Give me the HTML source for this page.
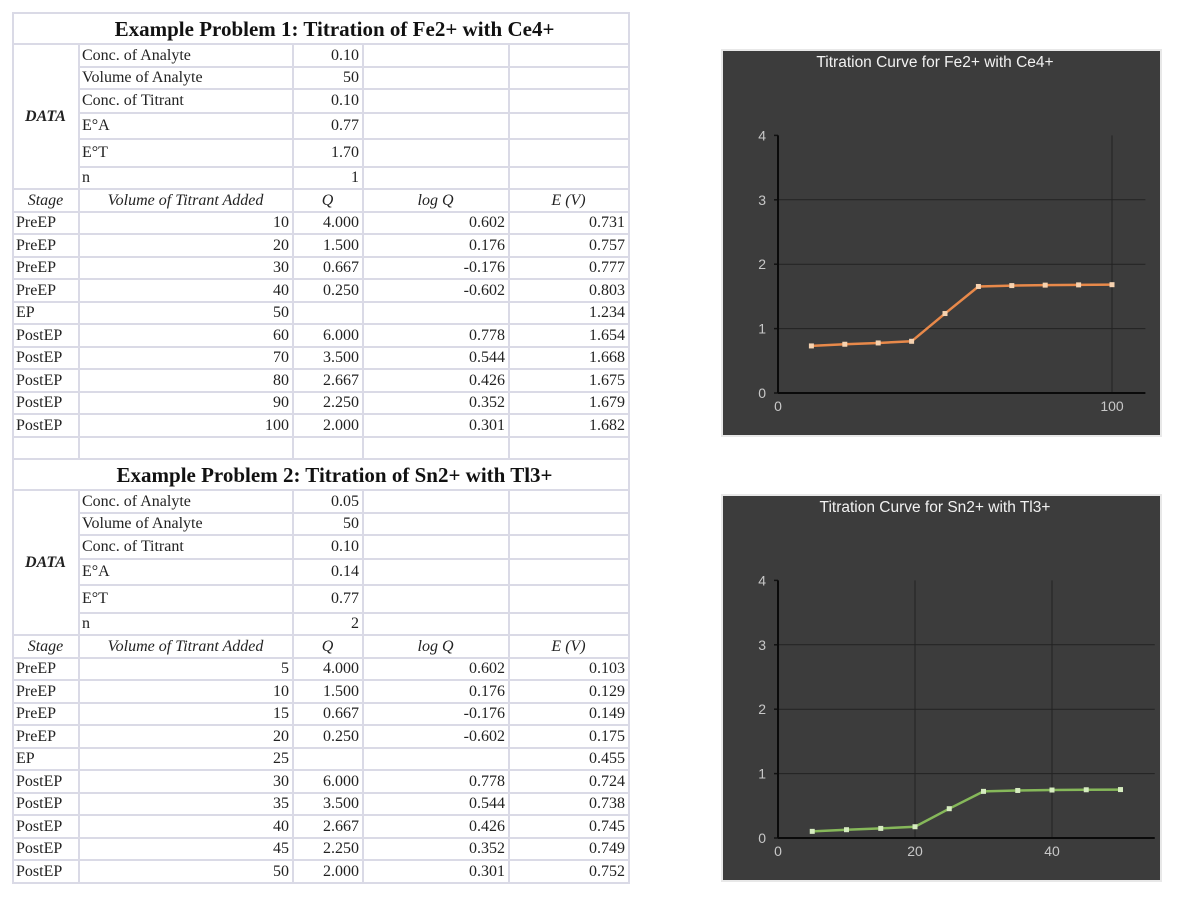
<!DOCTYPE html>
<html><head><meta charset="utf-8">
<style>
body{margin:0;width:1200px;height:902px;background:#fff;position:relative;overflow:hidden;font-family:"Liberation Serif",serif;}
table{position:absolute;left:12px;top:12px;border-collapse:collapse;table-layout:fixed;width:616px;font-size:16px;color:#222;}
td{border:2px solid #dadae6;padding:0 3px 0 2px;white-space:nowrap;overflow:hidden;line-height:14px;}
td.r{text-align:right;}
td.c{text-align:center;font-style:italic;}
td.t{text-align:center;font-weight:bold;font-size:21px;color:#111;padding-left:30px;}
td.d{text-align:center;font-weight:bold;font-style:italic;font-size:16px;}
.chart{position:absolute;left:721px;width:441px;height:388px;}
</style></head><body>
<table>
<colgroup><col style="width:66px"><col style="width:214px"><col style="width:70px"><col style="width:146px"><col style="width:120px"></colgroup>
<tbody id="tb"></tbody>
</table>

<svg class="chart" style="top:49px" id="c1" width="441" height="388"></svg>
<svg class="chart" style="top:494px" id="c2" width="441" height="388"></svg>

<script>
// ---- table data ----
const dataLabels = ["Conc. of Analyte","Volume of Analyte","Conc. of Titrant","E°A","E°T","n"];
const data1Values = ["0.10","50","0.10","0.77","1.70","1"];
const data2Values = ["0.05","50","0.10","0.14","0.77","2"];
const stages = ["PreEP","PreEP","PreEP","PreEP","EP","PostEP","PostEP","PostEP","PostEP","PostEP"];
const qVals = ["4.000","1.500","0.667","0.250","","6.000","3.500","2.667","2.250","2.000"];
const logQVals = ["0.602","0.176","-0.176","-0.602","","0.778","0.544","0.426","0.352","0.301"];
const vol1 = [10,20,30,40,50,60,70,80,90,100];
const e1 = [0.731,0.757,0.777,0.803,1.234,1.654,1.668,1.675,1.679,1.682];
const vol2 = [5,10,15,20,25,30,35,40,45,50];
const e2 = [0.103,0.129,0.149,0.175,0.455,0.724,0.738,0.745,0.749,0.752];
const dataRowH = [23,22,24,26,28,22];

const tb = document.getElementById('tb');
function addRow(h, cells){
  const tr = document.createElement('tr');
  tr.style.height = h+'px';
  cells.forEach(c=>{
    const td = document.createElement('td');
    td.textContent = c.t;
    if(c.cls) td.className = c.cls;
    if(c.cs) td.colSpan = c.cs;
    if(c.rs) td.rowSpan = c.rs;
    
    
    tr.appendChild(td);
  });
  tb.appendChild(tr);
}
function block(title, vals, vols, es, last){
  addRow(31,[{t:title,cls:'t',cs:5,n:'table-title'}]);
  dataLabels.forEach((l,i)=>{
    const cells = [];
    if(i===0) cells.push({t:'DATA',cls:'d',rs:6,n:'data-label'});
    cells.push({t:l,n:'parameter-name'},{t:vals[i],cls:'r',n:'parameter-value'},{t:''},{t:''});
    addRow(dataRowH[i],cells);
  });
  addRow(23,[{t:'Stage',cls:'c',n:'header-stage'},{t:'Volume of Titrant Added',cls:'c',n:'header-volume'},{t:'Q',cls:'c',n:'header-q'},{t:'log Q',cls:'c',n:'header-logq'},{t:'E (V)',cls:'c',n:'header-e'}]);
  for(let i=0;i<10;i++){
    addRow(i%2?23:22,[{t:stages[i],n:'stage-cell'},{t:String(vols[i]),cls:'r',n:'volume-cell'},{t:qVals[i],cls:'r',n:'q-cell'},{t:logQVals[i],cls:'r',n:'logq-cell'},{t:es[i].toFixed(3),cls:'r',n:'e-cell'}]);
  }
  if(!last) addRow(22,[{t:''},{t:''},{t:''},{t:''},{t:''}]);
}
block('Example Problem 1: Titration of Fe2+ with Ce4+', data1Values, vol1, e1, false);
block('Example Problem 2: Titration of Sn2+ with Tl3+', data2Values, vol2, e2, true);

// ---- charts ----
const yTicks = [0,1,2,3,4];
const x1Ticks = [0,100];
const x2Ticks = [0,20,40];
const NS='http://www.w3.org/2000/svg';
function el(svg,tag,attrs){const e=document.createElementNS(NS,tag);for(const k in attrs)e.setAttribute(k,attrs[k]);svg.appendChild(e);return e;}
function drawChart(id,title,xs,ys,xTicks,xMax,x0px,xUnit,y0px,col,mk){
  const svg=document.getElementById(id);
  const X=v=>x0px+v*xUnit, Y=v=>y0px-v*64.4;
  const bg=el(svg,'rect',{x:1,y:1,width:439,height:386,fill:'#3c3c3c',stroke:'#e8e8e8','stroke-width':2});
  
  
  const t=el(svg,'text',{x:214,y:18,'text-anchor':'middle',fill:'#f2f2f2','font-size':15.5,'font-family':'Liberation Sans, sans-serif'});
  t.textContent=title;
  
  
  const right=X(xMax);
  yTicks.forEach(v=>{
    if(v>0&&v<4){const g=el(svg,'line',{x1:X(0),x2:right,y1:Y(v),y2:Y(v),stroke:'#222','stroke-width':1});
      
      }
    el(svg,'line',{x1:X(0)-4,x2:X(0),y1:Y(v),y2:Y(v),stroke:'#111','stroke-width':1.5});
    const l=el(svg,'text',{x:X(0)-12,y:Y(v)+5,'text-anchor':'end',fill:'#c8c8c8','font-size':14,'font-family':'Liberation Sans, sans-serif'});
    l.textContent=v;
    
    
  });
  xTicks.forEach(v=>{
    if(v>0){const g=el(svg,'line',{x1:X(v),x2:X(v),y1:Y(4),y2:Y(0),stroke:'#222','stroke-width':1});
      
      }
    const l=el(svg,'text',{x:X(v),y:Y(0)+18,'text-anchor':'middle',fill:'#c8c8c8','font-size':14,'font-family':'Liberation Sans, sans-serif'});
    l.textContent=v;
    
    
  });
  const ya=el(svg,'line',{x1:X(0),x2:X(0),y1:Y(4),y2:Y(0),stroke:'#0a0a0a','stroke-width':2});
  
  
  const xa=el(svg,'line',{x1:X(0),x2:right,y1:Y(0),y2:Y(0),stroke:'#0a0a0a','stroke-width':2});
  
  
  const pts=xs.map((x,i)=>X(x)+','+Y(ys[i])).join(' ');
  const pl=el(svg,'polyline',{points:pts,fill:'none',stroke:col,'stroke-width':2.5});
  
  
  xs.forEach((x,i)=>{
    const m=el(svg,'rect',{x:X(x)-2.5,y:Y(ys[i])-2.5,width:5,height:5,fill:mk});
    
    
  });
}
drawChart('c1','Titration Curve for Fe2+ with Ce4+',vol1,e1,x1Ticks,110,57,3.34,344,'#e8894a','#f6d2b0');
drawChart('c2','Titration Curve for Sn2+ with Tl3+',vol2,e2,x2Ticks,55,57,6.85,344,'#86b85a','#d6ecc0');
</script>
</body></html>
